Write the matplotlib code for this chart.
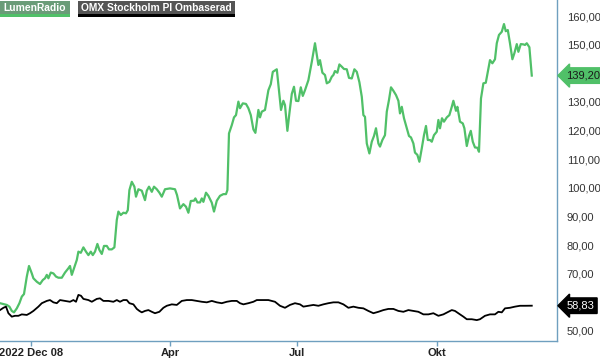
import matplotlib
matplotlib.use("Agg")
import matplotlib.pyplot as plt
import matplotlib.transforms as mtransforms

plt.rcParams['font.family'] = ['Liberation Sans', 'DejaVu Sans']

# ---- data (x = trading-day index, y = price) ----
lumen_t = [0, 1.7, 3.4, 4.7, 5.9, 7.0, 8.4, 9.7, 10.9, 12.0, 13.4, 14.5, 15.9, 16.7, 18.4, 20.0,
           21.4, 22.5, 23.4, 24.2, 25.4, 26.7, 28.0, 29.2, 30.9, 32.5, 34.2, 35.0, 35.9, 37.0,
           38.4, 39.2, 40.4, 41.7, 43.0, 44.2, 45.4, 46.4, 47.5, 48.7, 49.7, 50.9, 52.0, 53.4,
           54.5, 55.9, 57.2, 58.4, 59.2, 60.4, 61.7, 63.0, 63.9, 64.7, 65.9, 67.2, 68.0, 69.2,
           70.9, 72.5, 73.4, 74.5, 75.9, 77.0, 78.4, 79.7, 80.9, 82.5, 85.0, 87.5, 88.5, 90.0,
           91.7, 93.0, 94.2, 95.4, 97.0, 97.7, 98.7, 100.0, 100.9, 101.7, 103.0, 104.2, 105.9,
           107.0, 108.4, 110.0, 111.7, 113.0, 113.7, 114.5, 115.9, 117.0, 118.0, 119.2, 120.0,
           121.4, 123.0, 124.2, 125.4, 126.7, 127.7, 129.2, 130.0, 130.9, 132.5, 134.2, 135.4,
           136.4, 138.4, 139.2, 140.5, 141.7, 142.5, 143.7, 144.7, 145.9, 147.0, 148.0, 149.2,
           150.4, 151.4, 152.5, 154.2, 155.9, 157.5, 159.2, 160.0, 161.2, 162.5, 163.4, 164.7,
           165.9, 166.7, 167.5, 168.7, 169.7, 170.9, 172.0, 173.4, 174.5, 175.9, 177.2, 178.4,
           179.7, 180.9, 181.7, 182.5, 183.4, 184.7, 185.9, 187.0, 188.0, 189.2, 190.0, 191.2,
           192.5, 193.4, 194.5, 195.5, 196.7, 198.0, 199.2, 200.0, 200.9, 202.0, 203.4, 204.5,
           205.5, 206.7, 207.5, 208.7, 209.7, 210.9, 212.0, 213.0, 213.9, 215.0, 215.9, 217.0,
           218.4, 219.2, 220.0, 221.0, 222.0, 223.4, 224.7, 225.9, 226.7, 228.0, 228.7, 230.0,
           231.4, 232.2, 233.4, 234.5, 235.4, 236.4, 237.5, 238.7, 239.5, 240.5, 241.7, 242.9,
           243.9, 245.0, 246.2, 247.5, 248.4, 249.5, 250.9, 252.0, 252.9, 253.9, 255.0, 256.2,
           257.2, 258.4, 259.2, 260.4, 261.7, 262.5, 263.4, 264.7, 265.9]
lumen_v = [59.7, 59.4, 59.1, 58.5, 57.0, 56.5, 57.9, 59.7, 62.0, 62.9, 69.0, 72.7, 70.1, 68.4, 67.2, 66.4,
           67.8, 68.4, 69.6, 68.4, 70.4, 70.1, 69.0, 68.6, 68.6, 70.4, 71.9, 72.7, 69.6, 71.9,
           74.8, 77.7, 77.3, 79.2, 77.7, 76.5, 77.7, 76.5, 77.7, 80.4, 78.3, 76.9, 79.7, 79.7,
           78.5, 78.5, 79.2, 88.8, 91.7, 90.5, 91.3, 91.1, 92.2, 99.2, 102.1, 100.4, 96.9, 99.5,
           99.0, 95.7, 99.0, 100.4, 98.6, 100.4, 99.5, 98.3, 96.9, 99.5, 99.8, 99.5, 97.5, 92.8,
           94.3, 93.4, 91.3, 95.4, 95.5, 96.3, 94.9, 94.9, 96.3, 95.1, 98.3, 97.2, 94.8,
           91.7, 95.5, 97.2, 97.8, 97.8, 99.2, 119.0, 121.9, 124.6, 125.4, 130.1, 127.8,
           129.5, 129.3, 127.8, 125.4, 120.4, 119.2, 127.2, 124.6, 126.6, 127.2, 134.1, 136.2,
           140.5, 141.4, 135.9, 127.2, 130.4, 128.9, 119.9, 126.0, 132.8, 135.3, 130.4, 130.3,
           135.1, 132.1, 134.1, 137.6, 144.0, 150.5, 142.9, 144.6, 140.2, 139.4, 136.5, 137.0,
           138.8, 139.4, 140.8, 140.2, 143.1, 142.3, 141.5, 141.4, 138.4, 138.2, 141.4, 140.5,
           136.9, 131.8, 125.4, 124.8, 115.5, 112.0, 116.1, 118.1, 120.8, 115.5, 114.4, 116.7,
           118.4, 126.6, 130.7, 135.1, 133.9, 132.4, 130.4, 126.0, 128.3, 124.3, 120.8, 118.1,
           117.6, 115.5, 112.3, 111.5, 109.1, 113.8, 118.4, 121.6, 116.7, 116.7, 116.1, 118.4,
           119.6, 123.7, 120.8, 124.3, 123.1, 124.6, 125.4, 128.3, 130.4, 126.9, 128.3, 123.1,
           122.5, 120.8, 114.6, 118.1, 119.9, 116.1, 114.1, 114.0, 112.6, 131.2, 136.5, 136.7,
           140.5, 144.6, 143.5, 144.9, 150.5, 153.4, 154.5, 157.2, 154.7, 155.1, 150.5, 144.9,
           147.0, 150.2, 147.5, 150.2, 150.1, 149.9, 150.5, 149.1, 139.2]

omx_t = [0, 1.7, 3.0, 4.2, 5.9, 7.5, 9.2, 10.9, 13.4, 15.0, 16.7, 19.2, 20.9, 23.4, 25.0, 26.7,
         28.4, 30.0, 32.5, 35.0, 36.7, 38.0, 39.2, 40.5, 41.7, 44.2, 45.9, 48.4, 50.0, 51.7,
         54.2, 56.7, 58.4, 60.0, 61.7, 63.4, 64.7, 66.7, 68.4, 69.7, 70.9, 72.5, 74.2, 75.9,
         77.5, 79.7, 81.7, 83.4, 85.9, 88.4, 90.9, 93.4, 95.9, 98.4, 100.9, 103.4, 105.9,
         108.4, 110.9, 113.4, 115.9, 118.4, 120.0, 121.7, 124.2, 126.7, 128.4, 131.7, 134.2,
         137.5, 140.0, 142.5, 145.0, 147.5, 150.0, 151.7, 154.2, 156.7, 159.2, 161.7, 164.2,
         166.7, 169.2, 171.7, 174.2, 176.7, 179.2, 181.7, 184.2, 186.7, 189.2, 191.7, 194.2,
         196.7, 199.2, 201.7, 204.2, 206.7, 209.2, 211.7, 214.2, 216.7, 219.2, 221.7, 224.2,
         225.9, 227.5, 230.0, 231.7, 233.4, 235.9, 238.4, 240.0, 242.5, 245.0, 247.5, 249.2,
         250.9, 252.5, 255.0, 257.5, 260.0, 262.5, 265.9]
omx_v = [57.3, 58.1, 58.5, 56.2, 55.0, 55.3, 55.3, 55.8, 55.6, 56.2, 57.0, 58.5, 59.7, 60.5, 60.8, 60.0,
         59.7, 60.8, 60.5, 60.2, 60.8, 60.2, 62.6, 62.3, 61.2, 60.8, 60.2, 61.2, 61.4, 60.5,
         60.5, 60.2, 60.8, 60.2, 60.8, 60.8, 59.7, 59.3, 57.7, 57.0, 56.5, 57.0, 57.3, 56.7,
         56.2, 56.7, 58.1, 58.8, 59.3, 59.1, 60.5, 60.8, 60.8, 60.5, 60.2, 60.0, 60.5,
         60.0, 59.7, 60.2, 60.5, 60.5, 59.7, 59.3, 59.7, 60.2, 60.8, 60.8, 60.8,
         60.2, 58.8, 58.1, 59.1, 59.7, 59.3, 58.5, 58.8, 59.1, 58.8, 59.3, 59.7,
         60.0, 60.0, 59.3, 58.1, 58.5, 58.1, 57.9, 57.0, 56.2, 56.7, 57.3, 57.7,
         57.7, 57.0, 56.7, 57.3, 57.0, 56.7, 55.8, 55.8, 56.2, 55.3, 55.8, 56.7,
         57.3, 57.0, 55.8, 55.0, 54.1, 54.1, 53.8, 54.1, 55.3, 55.8, 55.8, 56.7,
         56.5, 57.9, 58.1, 58.5, 58.8, 58.8, 58.83]

xtick_pos = [15.5, 85.0, 148.5, 218.5]
xtick_labels = ["2022 Dec 08", "Apr", "Jul", "Okt"]
ytick_vals = [50, 70, 80, 90, 100, 110, 120, 130, 150, 160]
series_names = ["LumenRadio", "OMX Stockholm PI Ombaserad"]

GREEN = "#50c068"
AXCOL = "#6f9fbf"

W, H = 600, 358
fig = plt.figure(figsize=(6.0, 3.58), dpi=100)
ax = fig.add_axes([0.0, 0.0475, 0.9283, 0.9525])

ax.plot(lumen_t, lumen_v, color=GREEN, lw=1.6, solid_joinstyle="round")
ax.plot(omx_t, omx_v, color="black", lw=1.3, solid_joinstyle="round")

ax.set_xlim(0, 278.5)
ax.set_ylim(46.5, 165.6)

for s in ["top", "left"]:
    ax.spines[s].set_visible(False)
for s in ["right", "bottom"]:
    ax.spines[s].set_color(AXCOL)
    ax.spines[s].set_linewidth(1.0)

ax.yaxis.tick_right()
ax.set_yticks(ytick_vals)
ax.set_yticklabels([f"{v:.2f}".replace(".", ",") for v in ytick_vals])
ax.tick_params(axis="y", length=0, pad=7, labelsize=8, labelcolor="#333333")
ax.set_xticks(xtick_pos)
ax.set_xticklabels(xtick_labels, fontweight="bold")
ax.tick_params(axis="x", length=3.5, width=1, color=AXCOL, pad=1.5, labelsize=8,
               labelcolor="#222222")

# last value badges
trans = mtransforms.blended_transform_factory(ax.transAxes, ax.transData)
last_l = lumen_v[-1]
last_o = omx_v[-1]
ax.text(1.017, last_l, f"{last_l:.2f}".replace(".", ","), transform=trans, fontsize=8,
        color="#1a1a1a", va="center", ha="left", clip_on=False,
        bbox=dict(boxstyle="larrow,pad=0.25", fc=GREEN, ec=GREEN))
ax.text(1.017, last_o, f"{last_o:.2f}".replace(".", ","), transform=trans, fontsize=8,
        color="white", va="center", ha="left", clip_on=False,
        bbox=dict(boxstyle="larrow,pad=0.25", fc="black", ec="black"))

# legend badges
def badge(x0, x1, label, fill, line):
    fig.patches.append(plt.Rectangle((x0 / W, 1 - 15 / H), (x1 - x0) / W, 14 / H,
                                     transform=fig.transFigure, fc=fill, ec="none"))
    fig.patches.append(plt.Rectangle((x0 / W, 1 - 16.5 / H), (x1 - x0) / W, 2 / H,
                                     transform=fig.transFigure, fc=line, ec="none"))
    fig.text((x0 + x1) / 2 / W, 1 - 8.3 / H, label, fontsize=7.4, fontweight="bold",
             color="white", va="center", ha="center")

badge(0, 70, series_names[0], "#6a9c78", GREEN)
badge(78, 235, series_names[1], "#555555", "black")

fig.savefig("out.png", dpi=100)
